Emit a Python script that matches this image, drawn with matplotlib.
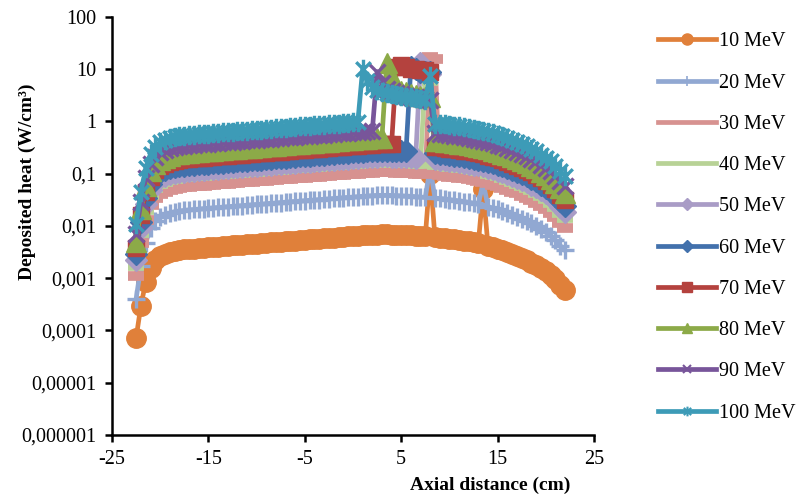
import numpy as np
import matplotlib
matplotlib.use("Agg")
import matplotlib.pyplot as plt
from matplotlib.path import Path
from matplotlib.lines import Line2D
from matplotlib.ticker import NullLocator

plt.rcParams["font.family"] = ["Liberation Serif", "DejaVu Serif"]

# --------------------------------------------------
# Data (in mW/cm3)
# --------------------------------------------------
x_cm = [-22.5, -22, -21.5, -21, -20.5, -20, -19.5, -19, -18.5, -18,
        -17.5, -17, -16.5, -16, -15.5, -15, -14.5, -14, -13.5, -13,
        -12.5, -12, -11.5, -11, -10.5, -10, -9.5, -9, -8.5, -8,
        -7.5, -7, -6.5, -6, -5.5, -5, -4.5, -4, -3.5, -3,
        -2.5, -2, -1.5, -1, -0.5, 0, 0.5, 1, 1.5, 2,
        2.5, 3, 3.5, 4, 4.5, 5, 5.5, 6, 6.5, 7,
        7.5, 8, 8.5, 9, 9.5, 10, 10.5, 11, 11.5, 12,
        12.5, 13, 13.5, 14, 14.5, 15, 15.5, 16, 16.5, 17,
        17.5, 18, 18.5, 19, 19.5, 20, 20.5, 21, 21.5, 22]

heat_10 = [0.072, 0.30, 0.85, 1.6, 2.2, 2.65, 2.9, 3.15, 3.35, 3.45,
           3.55, 3.62, 3.7, 3.77, 3.84, 3.9, 3.97, 4.04, 4.11, 4.18,
           4.25, 4.32, 4.39, 4.46, 4.53, 4.6, 4.68, 4.76, 4.85, 4.93,
           5.02, 5.1, 5.19, 5.27, 5.36, 5.45, 5.53, 5.62, 5.71, 5.8,
           5.9, 6.0, 6.1, 6.2, 6.3, 6.4, 6.5, 6.6, 6.7, 6.8,
           6.85, 6.9, 6.9, 6.85, 6.8, 6.75, 6.7, 6.6, 6.5, 6.4,
           6.3, 100, 6.1, 6.0, 5.85, 5.7, 5.55, 5.4, 5.25, 5.05,
           4.85, 4.65, 50, 4.2, 3.95, 3.7, 3.45, 3.2, 2.95, 2.7,
           2.45, 2.25, 2.0, 1.8, 1.55, 1.35, 1.15, 0.95, 0.75, 0.6]

heat_20 = [0.40, 1.68, 4.8, 9.0, 12.3, 14.8, 16.2, 17.6, 18.8, 19.3,
           19.9, 20.3, 20.7, 21.1, 21.5, 21.8, 22.2, 22.6, 23.0, 23.4,
           23.8, 24.2, 24.6, 25.0, 25.4, 25.8, 26.2, 26.7, 27.2, 27.6,
           28.1, 28.6, 29.1, 29.5, 30.0, 30.5, 31.0, 31.5, 32.0, 32.5,
           33.0, 33.6, 34.2, 34.7, 35.3, 35.8, 36.4, 37.0, 37.5, 38.1,
           38.4, 38.6, 38.6, 38.4, 38.1, 37.8, 37.5, 37.0, 36.4, 35.8,
           35.3, 130, 34.2, 33.6, 32.8, 31.9, 31.1, 30.2, 29.4, 28.3,
           27.2, 26.0, 68, 23.5, 22.1, 20.7, 19.3, 17.9, 16.5, 15.1,
           13.7, 12.6, 11.2, 10.1, 8.7, 7.6, 6.4, 5.3, 4.2, 3.4]

heat_30 = [1.1, 4.7, 13.2, 24.8, 34.1, 41.1, 45.0, 48.8, 51.9, 53.5,
           55.0, 56.1, 57.4, 58.4, 59.5, 60.5, 61.5, 62.6, 63.7, 64.8,
           65.9, 67.0, 68.0, 69.1, 70.2, 71.3, 72.5, 73.8, 75.2, 76.4,
           77.8, 79.0, 80.4, 81.7, 83.1, 84.5, 85.7, 87.1, 88.5, 89.9,
           91.5, 93.0, 94.6, 96.1, 97.7, 99.2, 101, 102, 104, 105,
           106, 107, 107, 106, 105, 105, 104, 102, 101, 99.2,
           97.7, 17000, 16000, 93.0, 90.7, 88.4, 86.0, 83.7, 81.4, 78.3,
           75.2, 72.1, 69.0, 65.1, 61.2, 57.4, 53.5, 49.6, 45.7, 41.9,
           38.0, 34.9, 31.0, 27.9, 24.0, 20.9, 17.8, 14.7, 11.6, 9.3]

heat_40 = [1.7, 7.2, 20.4, 38.4, 52.8, 63.6, 69.6, 75.6, 80.4, 82.8,
           85.2, 86.9, 88.8, 90.5, 92.2, 93.6, 95.3, 97.0, 98.6, 100,
           102, 104, 105, 107, 109, 110, 112, 114, 116, 118,
           120, 122, 125, 126, 129, 131, 133, 135, 137, 139,
           142, 144, 146, 149, 151, 154, 156, 158, 161, 163,
           164, 166, 166, 164, 163, 162, 161, 158, 156, 154,
           8000, 6000, 146, 144, 140, 137, 133, 130, 126, 121,
           116, 112, 170, 101, 94.8, 88.8, 82.8, 76.8, 70.8, 64.8,
           58.8, 54.0, 48.0, 43.2, 37.2, 32.4, 27.6, 22.8, 18.0, 14.4]

heat_50 = [2.2, 9.3, 26.4, 49.6, 68.2, 82.2, 89.9, 97.7, 104, 107,
           110, 112, 115, 117, 119, 121, 123, 125, 127, 130,
           132, 134, 136, 138, 140, 143, 145, 148, 150, 153,
           156, 158, 161, 163, 166, 169, 171, 174, 177, 180,
           183, 186, 189, 192, 195, 198, 202, 205, 208, 211,
           212, 214, 214, 212, 211, 209, 208, 205, 202, 13000,
           10000, 8000, 189, 186, 181, 177, 172, 167, 163, 157,
           150, 144, 138, 130, 122, 115, 107, 99.2, 91.5, 83.7,
           76.0, 69.8, 62.0, 55.8, 48.0, 41.9, 35.7, 29.5, 23.3, 18.6]

heat_60 = [2.9, 12.0, 34.0, 64.0, 88.0, 106, 116, 126, 134, 138,
           142, 145, 148, 151, 154, 156, 159, 162, 164, 167,
           170, 173, 176, 178, 181, 184, 187, 190, 194, 197,
           201, 204, 208, 211, 214, 218, 221, 225, 228, 232,
           236, 240, 244, 248, 252, 256, 260, 264, 268, 272,
           274, 276, 276, 274, 272, 270, 268, 11000, 10000, 9000,
           9000, 9000, 244, 240, 234, 228, 222, 216, 210, 202,
           194, 186, 178, 168, 158, 148, 138, 128, 118, 108,
           98.0, 90.0, 80.0, 72.0, 62.0, 54.0, 46.0, 38.0, 30.0, 24.0]

heat_70 = [3.8, 15.9, 45.0, 84.8, 117, 141, 154, 167, 178, 183,
           188, 192, 196, 200, 204, 207, 210, 214, 218, 222,
           225, 229, 233, 236, 240, 244, 248, 252, 257, 261,
           266, 270, 275, 279, 284, 289, 293, 298, 303, 307,
           313, 318, 323, 329, 334, 339, 345, 350, 355, 360,
           363, 366, 366, 363, 11000, 12000, 11000, 10000, 10000, 9500,
           9500, 9000, 323, 318, 310, 302, 294, 286, 278, 268,
           257, 247, 236, 223, 209, 196, 183, 170, 156, 143,
           130, 119, 106, 95.4, 82.2, 71.6, 61.0, 50.4, 39.8, 31.8]

heat_80 = [5.0, 21.0, 59.5, 112, 154, 186, 203, 221, 235, 242,
           249, 253, 259, 264, 269, 273, 278, 283, 288, 293,
           298, 302, 307, 312, 317, 322, 328, 333, 340, 345,
           351, 357, 363, 369, 375, 382, 387, 393, 400, 406,
           413, 420, 427, 434, 441, 448, 455, 462, 469, 476,
           480, 483, 13000, 7000, 4500, 3900, 3600, 3400, 3200, 3100,
           3000, 2900, 427, 420, 410, 399, 389, 378, 368, 354,
           340, 326, 312, 294, 277, 259, 242, 224, 207, 189,
           172, 158, 140, 126, 109, 94.5, 80.5, 66.5, 52.5, 42.0]

heat_90 = [7.0, 29.1, 82.5, 155, 213, 257, 281, 306, 325, 335,
           344, 351, 359, 366, 372, 378, 385, 392, 399, 405,
           412, 419, 426, 433, 439, 446, 454, 462, 470, 478,
           487, 495, 503, 511, 520, 529, 536, 545, 554, 563,
           572, 582, 592, 601, 611, 621, 631, 640, 650, 660,
           9000, 5500, 4200, 3800, 3500, 3300, 3100, 3000, 2900, 2800,
           2700, 2600, 592, 582, 567, 553, 538, 524, 509, 490,
           470, 451, 432, 407, 383, 359, 335, 310, 286, 262,
           238, 218, 194, 175, 150, 131, 112, 92.0, 73.0, 58.0]

heat_100 = [10.8, 45.0, 128, 240, 330, 398, 435, 473, 503, 518,
            533, 543, 555, 566, 576, 585, 596, 606, 617, 627,
            638, 648, 659, 669, 680, 690, 702, 714, 728, 740,
            753, 765, 779, 791, 804, 818, 830, 843, 857, 870,
            885, 900, 915, 930, 945, 960, 975, 10000, 6000, 4500,
            4000, 3700, 3500, 3300, 3200, 3100, 3000, 2900, 2800, 2700,
            2600, 7500, 915, 900, 878, 855, 833, 810, 788, 758,
            728, 698, 668, 630, 593, 555, 518, 480, 443, 405,
            368, 338, 300, 270, 233, 203, 173, 143, 113, 90.0]

series = [heat_10, heat_20, heat_30, heat_40, heat_50,
          heat_60, heat_70, heat_80, heat_90, heat_100]
labels = ["10 MeV", "20 MeV", "30 MeV", "40 MeV", "50 MeV",
          "60 MeV", "70 MeV", "80 MeV", "90 MeV", "100 MeV"]

x_ticks = [-25, -15, -5, 5, 15, 25]
y_ticks = [1e-6, 1e-5, 1e-4, 1e-3, 1e-2, 1e-1, 1, 10, 100]
y_tick_labels = ["0,000001", "0,00001", "0,0001", "0,001", "0,01",
                 "0,1", "1", "10", "100"]

# --------------------------------------------------
# Styles (Excel-like markers)
# --------------------------------------------------
star = Path([(0, -1), (0, 1), (-0.75, -0.75), (0.75, 0.75), (-0.75, 0.75), (0.75, -0.75)],
            [Path.MOVETO, Path.LINETO, Path.MOVETO, Path.LINETO, Path.MOVETO, Path.LINETO])

colors = ["#E0803A", "#91A8D2", "#D79290", "#B8D296", "#A99CC6",
          "#4271AC", "#B4423E", "#8CAA48", "#78559A", "#3D9BB7"]
markers = ["o", "+", "_", "_", "D", "D", "s", "^", "x", star]
msizes = [14, 13, 12, 12, 11.5, 11.5, 12, 14, 11, 14]
mews = [1, 2.4, 7, 7, 1, 1, 1, 1, 2.4, 2.4]

# legend look (small markers, none for the dash series)
leg_markers = ["o", "+", "None", "None", "D", "D", "s", "^", "x", star]
leg_sizes = [8, 7, 0, 0, 6.5, 6.5, 7.5, 7.5, 6, 7]
leg_mews = [1, 1.2, 1, 1, 1, 1, 1, 1, 1.5, 1.5]

fig = plt.figure(figsize=(8, 4.98), dpi=100)
ax = fig.add_axes([0.14, 0.1265, 0.6025, 0.8394])

for i in range(len(series)):
    y = np.array(series[i]) / 1000.0  # mW -> W
    ax.plot(x_cm, y, color=colors[i], lw=3.4, marker=markers[i],
            markersize=msizes[i], markeredgewidth=mews[i],
            markerfacecolor=colors[i], markeredgecolor=colors[i],
            zorder=2 + i)

ax.set_yscale("log")
ax.set_ylim(1e-6, 100)
ax.set_xlim(-25, 25)
ax.set_yticks(y_ticks)
ax.set_yticklabels(y_tick_labels)
ax.yaxis.set_minor_locator(NullLocator())
ax.set_xticks(x_ticks)
ax.set_xticklabels([str(t) for t in x_ticks])

ax.spines["top"].set_visible(False)
ax.spines["right"].set_visible(False)
for s in ["left", "bottom"]:
    ax.spines[s].set_linewidth(1.8)
ax.tick_params(axis="both", direction="out", length=5, width=1.8,
               labelsize=14.5, pad=6)

ax.set_xlabel("Axial distance (cm)", fontsize=14, fontweight="bold")
ax.set_ylabel("Deposited heat (W/cm³)", fontsize=14, fontweight="bold")
ax.xaxis.set_label_coords(0.784, -0.1)
ax.yaxis.set_label_coords(-0.158, 0.605)

handles = []
for i in range(len(labels)):
    handles.append(Line2D([], [], color=colors[i], lw=3.4, marker=leg_markers[i],
                          markersize=leg_sizes[i], markeredgewidth=leg_mews[i],
                          markerfacecolor=colors[i], markeredgecolor=colors[i]))

ax.legend(handles, labels, loc="upper left", bbox_to_anchor=(0.822, 0.935),
          bbox_transform=fig.transFigure, frameon=False,
          handlelength=2.9, handletextpad=0.15, labelspacing=1.1,
          fontsize=14.5, borderaxespad=0, borderpad=0)

fig.savefig("out.png", dpi=100)
